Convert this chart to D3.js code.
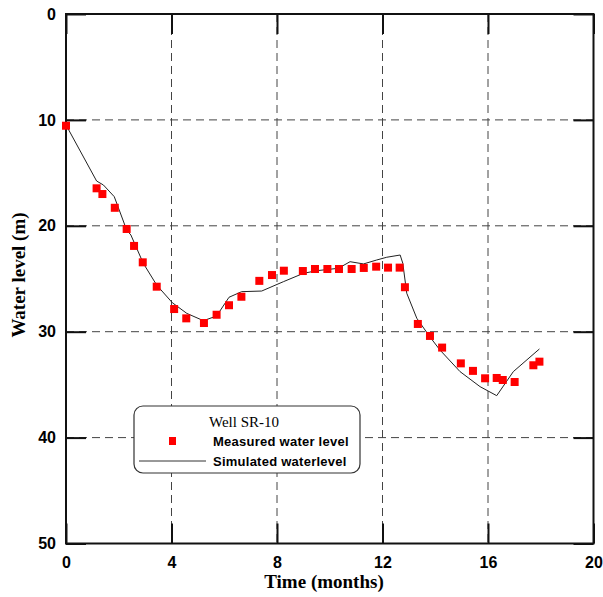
<!DOCTYPE html>
<html><head><meta charset="utf-8">
<script src="https://cdn.jsdelivr.net/npm/d3@7"></script>
<style>body{margin:0;background:#fff}</style>
</head><body>
<svg id="c" width="603" height="597"></svg>
<script>
const xTicks = [0, 4, 8, 12, 16, 20];
const yTicks = [0, 10, 20, 30, 40, 50];
const measuredT = [0, 1.16, 1.38, 1.85, 2.30, 2.58, 2.91, 3.44, 4.10, 4.56, 5.23, 5.71, 6.18, 6.65, 7.33, 7.81, 8.26, 8.98, 9.44, 9.91, 10.35, 10.83, 11.29, 11.76, 12.21, 12.65, 12.85, 13.34, 13.8, 14.26, 14.97, 15.43, 15.89, 16.33, 16.56, 17.01, 17.72, 17.95];
const measuredL = [10.55, 16.46, 17.0, 18.3, 20.3, 21.9, 23.45, 25.75, 27.86, 28.74, 29.18, 28.4, 27.5, 26.7, 25.2, 24.65, 24.24, 24.27, 24.08, 24.08, 24.08, 24.08, 23.98, 23.86, 23.95, 23.95, 25.8, 29.27, 30.4, 31.5, 32.99, 33.7, 34.4, 34.37, 34.56, 34.75, 33.17, 32.83];
const simT = [0, 1.16, 1.42, 1.83, 2.30, 2.46, 2.93, 3.44, 4.03, 4.58, 5.21, 5.71, 6.18, 6.66, 7.42, 8.24, 9.0, 9.51, 10.33, 10.77, 11.28, 11.78, 12.16, 12.67, 12.77, 12.92, 13.3, 13.8, 14.18, 14.94, 15.70, 16.33, 16.96, 17.95];
const simL = [10.48, 15.77, 16.15, 17.25, 20.4, 20.87, 23.54, 25.6, 27.26, 28.27, 28.96, 28.52, 26.75, 26.22, 26.16, 25.28, 24.49, 24.24, 24.01, 23.39, 23.6, 23.23, 22.97, 22.76, 23.54, 26.37, 28.73, 30.5, 31.73, 33.77, 35.19, 36.04, 33.77, 31.63];

const svg = d3.select('#c');
const L = 66, R = 593.5, T = 14, B = 543.5;
const x = d3.scaleLinear().domain([0, 20]).range([L, R]);
const y = d3.scaleLinear().domain([0, 50]).range([T, B]);

// grid
const g = svg.append('g');
g.selectAll('.gx').data(xTicks.slice(1, -1)).join('line')
  .attr('x1', d => x(d)).attr('x2', d => x(d)).attr('y1', T).attr('y2', B)
  .attr('stroke', '#444').attr('stroke-width', 1).attr('stroke-dasharray', '8,5');
g.selectAll('.gy').data(yTicks.slice(1, -1)).join('line')
  .attr('y1', d => y(d)).attr('y2', d => y(d)).attr('x1', L).attr('x2', R)
  .attr('stroke', '#444').attr('stroke-width', 1).attr('stroke-dasharray', '8,5');

// axes with inward ticks
const fontNum = 'Arial, "Liberation Sans", sans-serif';
const ax = (gen, tr) => {
  const a = svg.append('g').attr('transform', tr).call(gen);
  a.select('.domain').remove();
  a.selectAll('line').attr('stroke', '#111').attr('stroke-width', 2);
  return a;
};
const axB = ax(d3.axisBottom(x).tickValues(xTicks).tickSize(-20).tickPadding(10), `translate(0,${B})`);
axB.selectAll('text').attr('font-family', fontNum).attr('font-weight', 'bold').attr('font-size', 16).attr('fill', '#000').attr('dy', '0.9em');
const axL = ax(d3.axisLeft(y).tickValues(yTicks).tickSize(-20).tickPadding(10), `translate(${L},0)`);
axL.selectAll('text').attr('font-family', fontNum).attr('font-weight', 'bold').attr('font-size', 16).attr('fill', '#000');
ax(d3.axisTop(x).tickValues(xTicks).tickSize(-20).tickFormat(''), `translate(0,${T})`);
ax(d3.axisRight(y).tickValues(yTicks).tickSize(-20).tickFormat(''), `translate(${R},0)`);

// frame
svg.append('rect').attr('x', L).attr('y', T).attr('width', R - L).attr('height', B - T)
  .attr('fill', 'none').attr('stroke', '#111').attr('stroke-width', 2);

// simulated line
svg.append('path').datum(simT.map((t, i) => [t, simL[i]]))
  .attr('d', d3.line().x(d => x(d[0])).y(d => y(d[1])))
  .attr('fill', 'none').attr('stroke', '#222').attr('stroke-width', 1);

// measured points
svg.selectAll('.m').data(measuredT.map((t, i) => [t, measuredL[i]])).join('rect')
  .attr('x', d => x(d[0]) - 4).attr('y', d => y(d[1]) - 4).attr('width', 8).attr('height', 8)
  .attr('fill', '#ff0000');

// axis titles
svg.append('text').attr('x', 324).attr('y', 588).attr('text-anchor', 'middle')
  .attr('font-family', '"Liberation Serif", "Times New Roman", serif').attr('font-weight', 'bold').attr('font-size', 19)
  .text('Time (months)');
svg.append('text').attr('transform', `translate(25,275) rotate(-90)`).attr('text-anchor', 'middle')
  .attr('font-family', '"Liberation Serif", "Times New Roman", serif').attr('font-weight', 'bold').attr('font-size', 19)
  .text('Water level (m)');

// legend
const lg = svg.append('g');
lg.append('rect').attr('x', 134).attr('y', 406).attr('width', 226).attr('height', 67).attr('rx', 9)
  .attr('fill', '#fff').attr('stroke', '#333').attr('stroke-width', 1.2);
lg.append('text').attr('x', 244).attr('y', 427).attr('text-anchor', 'middle')
  .attr('font-family', '"Liberation Serif", "Times New Roman", serif').attr('font-size', 15).text('Well SR-10');
lg.append('rect').attr('x', 169).attr('y', 437).attr('width', 7).attr('height', 8).attr('fill', '#ff0000');
lg.append('text').attr('x', 213).attr('y', 446).attr('letter-spacing', 0.25)
  .attr('font-family', fontNum).attr('font-weight', 'bold').attr('font-size', 13).text('Measured water level');
lg.append('line').attr('x1', 139).attr('x2', 206).attr('y1', 461).attr('y2', 461).attr('stroke', '#333').attr('stroke-width', 1);
lg.append('text').attr('x', 213).attr('y', 466).attr('letter-spacing', 0.25)
  .attr('font-family', fontNum).attr('font-weight', 'bold').attr('font-size', 13).text('Simulated waterlevel');
</script>
</body></html>
